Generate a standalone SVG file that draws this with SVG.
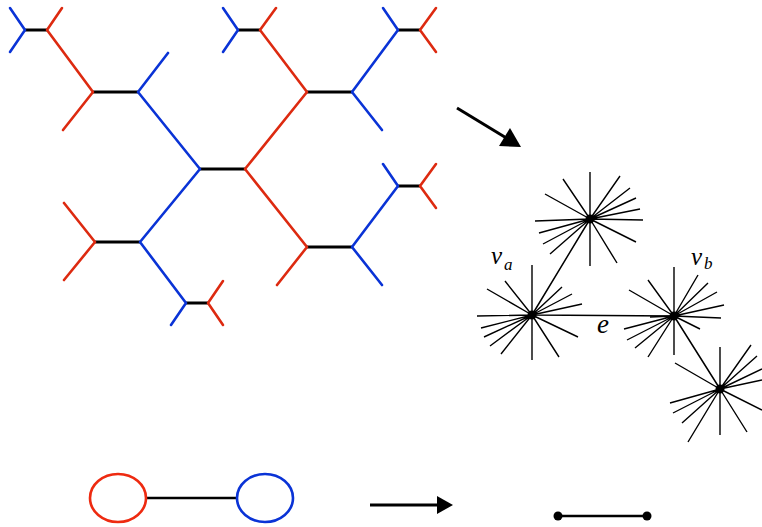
<svg xmlns="http://www.w3.org/2000/svg" width="762" height="527" viewBox="0 0 762 527">
<style>
.b{stroke:#0a33d6;stroke-width:2.6;fill:none;stroke-linecap:round;stroke-linejoin:round}
.r{stroke:#dd2a10;stroke-width:2.6;fill:none;stroke-linecap:round;stroke-linejoin:round}
.k{stroke:#000;stroke-width:3;fill:none}
.s{stroke:#000;stroke-width:1.4;fill:none}
.lbl{font-family:"Liberation Serif","DejaVu Serif",serif;font-style:italic;fill:#000}
</style>
<rect width="762" height="527" fill="#fff"/>

<g id="tree">
<g id="bars">
<path class="k" d="M25,30H47 M238,30H260 M398,30H420 M93,92H138 M307,92H352 M200,169H245 M95,242H140 M307,247H352 M398,186H420 M186,303H208"/>
</g>
<g id="blue">
<path class="b" d="M10,8L25,30L10,52"/>
<path class="b" d="M223,8L238,30L223,52"/>
<path class="b" d="M383,8L398,30L352,92L382,130"/>
<path class="b" d="M168,53L138,92L200,169L140,242L186,303L171,325"/>
<path class="b" d="M382,285L352,247L398,186L383,164"/>
</g>
<g id="red">
<path class="r" d="M62,8L47,30L93,92L63,130"/>
<path class="r" d="M276,8L260,30L307,92L245,169L307,247L277,285"/>
<path class="r" d="M436,8L420,30L436,52"/>
<path class="r" d="M64,203L95,242L64,280"/>
<path class="r" d="M436,164L420,186L436,208"/>
<path class="r" d="M223,281L208,303L223,325"/>
</g>
</g>

<g id="connectors">
<path d="M457,108L508,139" stroke="#000" stroke-width="3" fill="none"/>
<polygon points="521,147 499,146 510,128" fill="#000"/>
<path d="M370,505H440" stroke="#000" stroke-width="3" fill="none"/>
<polygon points="453,505 437,496 437,514" fill="#000"/>
<path d="M532,315L590,219 M532,315L674,316 M674,316L720,389" stroke="#000" stroke-width="1.5" fill="none"/>
<path d="M146,498H237" stroke="#000" stroke-width="2.5"/>
<path d="M558,516H647" stroke="#000" stroke-width="2.5"/>
</g>

<g id="star-top">
<path class="s" d="M590,219L590,172M590,219L590,266M590,219L535,221M590,219L643,220M590,219L563,179M590,219L545,194M590,219L617,263M590,219L636,242M590,219L620,176M590,219L630,188M590,219L636,198M590,219L640,209M590,219L539,233M590,219L543,244M590,219L550,254"/>
<circle cx="590" cy="219" r="4.5" fill="#000"/>
</g>
<g id="star-va">
<path class="s" d="M532,315L532,265M532,315L532,360M532,315L477,316M532,315L505,281M532,315L487,289M532,315L559,357M532,315L578,337M532,315L562,287M532,315L572,294M532,315L582,304M532,315L481,328M532,315L484,337M532,315L490,346M532,315L501,354"/>
<circle cx="532" cy="315" r="4.5" fill="#000"/>
<text class="lbl" x="491" y="264" font-size="25">v</text>
<text class="lbl" x="504" y="270" font-size="17">a</text>
</g>
<g id="star-vb">
<path class="s" d="M674,316L674,267M674,316L674,355M674,316L650,317M674,316L721,318M674,316L648,280M674,316L629,290M674,316L700,329M674,316L698,275M674,316L708,283M674,316L717,292M674,316L724,305M674,316L624,329M674,316L627,340M674,316L635,348M674,316L648,357"/>
<circle cx="674" cy="316" r="4.5" fill="#000"/>
<text class="lbl" x="691" y="265" font-size="25">v</text>
<text class="lbl" x="704" y="269" font-size="17">b</text>
</g>
<g id="star-bottom">
<path class="s" d="M720,389L720,347M720,389L720,435M720,389L675,363M720,389L747,432M720,389L762,410M720,389L751,345M720,389L757,356M720,389L762,369M720,389L762,380M720,389L670,403M720,389L673,413M720,389L682,423M720,389L688,442"/>
<circle cx="720" cy="389" r="4.5" fill="#000"/>
</g>
<text id="label-e" class="lbl" x="597" y="333" font-size="27">e</text>

<g id="node-red">
<ellipse cx="118" cy="498" rx="28" ry="24" fill="none" stroke="#ee2a10" stroke-width="2.6"/>
</g>
<g id="node-blue">
<ellipse cx="265" cy="498" rx="28" ry="24" fill="none" stroke="#0a33d6" stroke-width="2.6"/>
</g>
<g id="dot-left"><circle cx="558" cy="516" r="4.5" fill="#000"/></g>
<g id="dot-right"><circle cx="647" cy="516" r="4.5" fill="#000"/></g>
</svg>
